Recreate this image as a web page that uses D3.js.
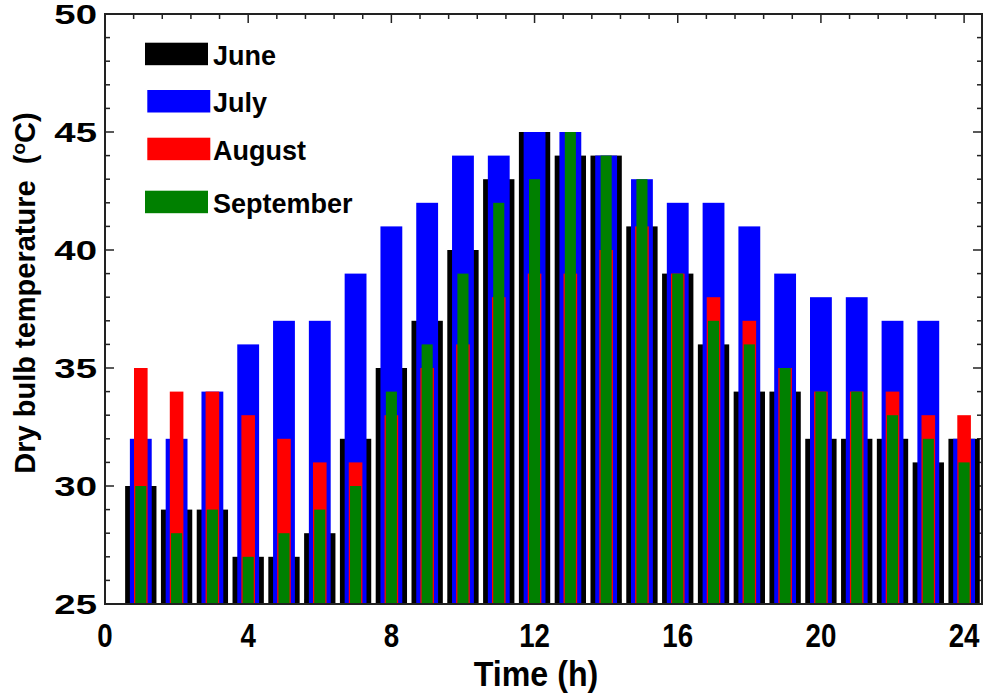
<!DOCTYPE html>
<html>
<head>
<meta charset="utf-8">
<script src="https://cdn.jsdelivr.net/npm/d3@7/dist/d3.min.js"></script>
<style>
  body { margin: 0; background: #fff; }
  text { font-family: Arial, "Liberation Sans", sans-serif; font-weight: bold; fill: #000; }
</style>
</head>
<body>
<svg id="chart" width="985" height="694"></svg>
<script>
// Hourly dry bulb temperature (°C) per month
const hours = [1, 2, 3, 4, 5, 6, 7, 8, 9, 10, 11, 12, 13, 14, 15, 16, 17, 18, 19, 20, 21, 22, 23, 24];
const june      = [30, 29, 29, 27, 27, 28, 32, 35, 37, 40, 43, 45, 44, 44, 41, 39, 36, 34, 34, 32, 32, 32, 31, 32];
const july      = [32, 32, 34, 36, 37, 37, 39, 41, 42, 44, 44, 45, 45, 44, 43, 42, 42, 41, 39, 38, 38, 37, 37, 32];
const august    = [35, 34, 34, 33, 32, 31, 31, 33, 35, 36, 38, 39, 39, 40, 41, 39, 38, 37, 35, 34, 34, 34, 33, 33];
const september = [30, 28, 29, 27, 28, 29, 30, 34, 36, 39, 42, 43, 45, 44, 43, 39, 37, 36, 35, 34, 34, 33, 32, 31];

const xTicks = [0, 4, 8, 12, 16, 20, 24];
const yTicks = [25, 30, 35, 40, 45, 50];

// Series drawn back to front; each one narrower than the one behind it
const series = [
  { name: "June",      values: june,      color: "#000000", width: 0.875 },
  { name: "July",      values: july,      color: "#0000ff", width: 0.61 },
  { name: "August",    values: august,    color: "#ff0000", width: 0.38 },
  { name: "September", values: september, color: "#008000", width: 0.31 }
];

const svg = d3.select("#chart");
const plotL = 105, plotR = 982, plotT = 14, plotB = 604;

const x = d3.scaleLinear().domain([0, 24.5]).range([plotL, plotR]);
const y = d3.scaleLinear().domain([25, 50]).range([plotB, plotT]);

svg.append("defs").append("clipPath").attr("id", "plot")
  .append("rect").attr("x", plotL).attr("y", plotT)
  .attr("width", plotR - plotL).attr("height", plotB - plotT);

// minor/major tick positions
const xMinor = d3.range(0, 24.5 + 1e-6, 0.8).filter(v => xTicks.indexOf(Math.round(v * 10) / 10) < 0);
const yMinor = d3.range(25, 50, 1).filter(v => v % 5 !== 0);

const tickG = svg.append("g").attr("stroke", "#222").attr("stroke-width", 1.5);
function xt(vals, len) {
  vals.forEach(v => {
    const px = x(v);
    tickG.append("line").attr("x1", px).attr("x2", px).attr("y1", plotT).attr("y2", plotT + len);
    tickG.append("line").attr("x1", px).attr("x2", px).attr("y1", plotB).attr("y2", plotB - len);
  });
}
xt(xTicks, 9);
xt(xMinor, 5);
function yt(vals, len) {
  vals.forEach(v => {
    const py = y(v);
    tickG.append("line").attr("x1", plotL).attr("x2", plotL + len).attr("y1", py).attr("y2", py);
    tickG.append("line").attr("x1", plotR).attr("x2", plotR - len).attr("y1", py).attr("y2", py);
  });
}
yt(yTicks, 9);
yt(yMinor, 5);

// Overlapping bars
const barsG = svg.append("g").attr("clip-path", "url(#plot)");
series.forEach(s => {
  const w = x(s.width) - x(0);
  barsG.append("g").selectAll("rect")
    .data(hours.map((h, i) => ({ h, v: s.values[i] })))
    .join("rect")
    .attr("x", d => x(d.h) - w / 2)
    .attr("width", w)
    .attr("y", d => y(d.v))
    .attr("height", d => y(25) - y(d.v))
    .attr("fill", s.color);
});

// Frame
svg.append("rect").attr("x", plotL).attr("y", plotT)
  .attr("width", plotR - plotL).attr("height", plotB - plotT)
  .attr("fill", "none").attr("stroke", "#222").attr("stroke-width", 2);

// Tick labels: wide digits on the temperature axis, narrow tall digits on the time axis
svg.append("g").selectAll("text").data(yTicks).join("text")
  .attr("transform", d => `translate(${plotL - 8},${y(d)}) scale(1.42,1)`)
  .attr("dy", "0.36em")
  .attr("text-anchor", "end").attr("font-size", 27).text(d => d);
svg.append("g").selectAll("text").data(xTicks).join("text")
  .attr("transform", d => `translate(${x(d)},647) scale(0.84,1)`)
  .attr("text-anchor", "middle").attr("font-size", 33).text(d => d);

// Axis titles
svg.append("text").attr("transform", "translate(536,686) scale(0.92,1)")
  .attr("text-anchor", "middle").attr("font-size", 35).text("Time (h)");
const yTitle = svg.append("text")
  .attr("transform", "translate(35,293) rotate(-90)")
  .attr("text-anchor", "middle").attr("font-size", 29)
  .attr("xml:space", "preserve");
yTitle.append("tspan").text("Dry bulb temperature  (");
yTitle.append("tspan").attr("font-size", 19).attr("dy", -10).text("o");
yTitle.append("tspan").attr("dy", 10).text("C)");

// Legend
const legend = [
  { s: series[0], x: 145, y: 42.7, w: 63 },
  { s: series[1], x: 147.3, y: 90, w: 63 },
  { s: series[2], x: 147.3, y: 137.7, w: 63 },
  { s: series[3], x: 145, y: 190.7, w: 63 }
];
legend.forEach(l => {
  svg.append("rect").attr("x", l.x).attr("y", l.y).attr("width", l.w).attr("height", 22.5)
    .attr("fill", l.s.color);
  svg.append("text").attr("x", 213).attr("y", l.y + 22)
    .attr("font-size", 27).text(l.s.name);
});
</script>
</body>
</html>
